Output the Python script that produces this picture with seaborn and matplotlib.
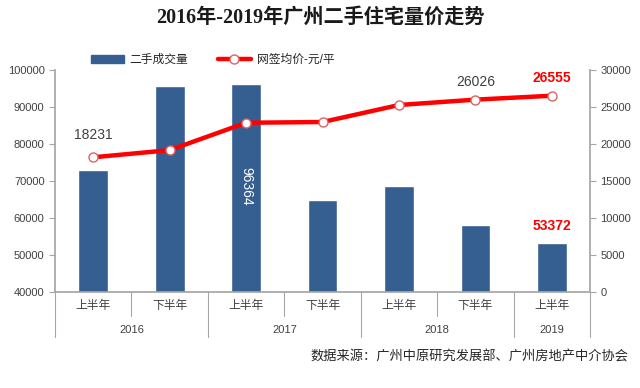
import matplotlib
matplotlib.use('Agg')
import matplotlib.pyplot as plt
import matplotlib.transforms as mtransforms
from matplotlib.lines import Line2D
from matplotlib.patches import Patch
import seaborn as sns
import pandas as pd

# data
halves = ['上半年', '下半年', '上半年', '下半年', '上半年', '下半年', '上半年']
years = ['2016', '2017', '2018', '2019']
year_span = [2, 2, 2, 1]
volume = [73000, 95700, 96364, 64900, 68700, 58100, 53372]
price = [18231, 19200, 22900, 23000, 25300, 26026, 26555]

bar_color = '#355E91'
line_color = '#FF0000'
gray = '#A6A6A6'

sns.set_theme(style='white')
plt.rcParams['font.family'] = ['Liberation Sans', 'Noto Sans CJK SC', 'DejaVu Sans']

df = pd.DataFrame({'pos': range(len(volume)), 'volume': volume, 'price': price})

fig = plt.figure(figsize=(6.4, 3.88), dpi=100)
ax = fig.add_axes([0.086, 0.247, 0.836, 0.572])

sns.barplot(data=df, x='pos', y='volume', color=bar_color, width=0.39,
            saturation=1, ax=ax, zorder=2)
ax.set_ylim(40000, 100000)
ax.set_yticks(range(40000, 100001, 10000))
ax.set_xlim(-0.5, len(volume) - 0.5)
ax.set_xticks([])
ax.set_xlabel('')
ax.set_ylabel('')

ax2 = ax.twinx()
sns.lineplot(data=df, x='pos', y='price', color=line_color, lw=3.2,
             marker='o', markersize=6.5, markerfacecolor='white',
             markeredgecolor='#E06060', markeredgewidth=1, ax=ax2, zorder=3)
ax2.set_ylim(0, 30000)
ax2.set_yticks(range(0, 30001, 5000))
ax2.set_ylabel('')
ax2.set_xlim(-0.5, len(volume) - 0.5)

for a in (ax, ax2):
    for s in a.spines.values():
        s.set_visible(False)
    a.tick_params(axis='y', labelsize=8, colors='#404040', length=4,
                  width=0.8, color=gray, direction='out')
ax.spines['left'].set_visible(True)
ax.spines['left'].set_color(gray)
ax.tick_params(axis='y', left=True)
ax2.spines['right'].set_visible(True)
ax2.spines['right'].set_color(gray)
ax2.tick_params(axis='y', right=True)
ax.spines['bottom'].set_visible(True)
ax.spines['bottom'].set_color(gray)

# data labels
ax2.annotate(f'{price[0]}', (0, price[0]), xytext=(0, 16), textcoords='offset points',
             ha='center', va='center', fontsize=10, color='#404040')
ax2.annotate(f'{price[5]}', (5, price[5]), xytext=(0, 13), textcoords='offset points',
             ha='center', va='center', fontsize=10, color='#404040')
ax2.annotate(f'{price[6]}', (6, price[6]), xytext=(0, 13), textcoords='offset points',
             ha='center', va='center', fontsize=10, color=line_color, fontweight='bold')
ax.annotate(f'{volume[6]}', (6, volume[6]), xytext=(0, 12), textcoords='offset points',
            ha='center', va='center', fontsize=10, color=line_color, fontweight='bold')
ax.text(2, 68500, f'{volume[2]}', rotation=-90, ha='center', va='center',
        fontsize=10, color='white', zorder=4)

# two-level category axis
trans = mtransforms.blended_transform_factory(ax.transData, ax.transAxes)
for i, h in enumerate(halves):
    ax.text(i, -0.063, h, transform=trans, ha='center', va='center',
            fontsize=8.5, color='#404040')
start = 0
bounds = [-0.5]
for y, n in zip(years, year_span):
    ax.text(start + (n - 1) / 2, -0.17, y, transform=trans, ha='center',
            va='center', fontsize=8, color='#404040')
    start += n
    bounds.append(start - 0.5)
for b in bounds:
    ax.add_line(Line2D([b, b], [0, -0.203], transform=trans, color=gray,
                       lw=0.8, clip_on=False))
for b in [0.5, 2.5, 4.5]:
    ax.add_line(Line2D([b, b], [0, -0.108], transform=trans, color=gray,
                       lw=0.8, clip_on=False))

# legend
handles = [Patch(color=bar_color, label='二手成交量'),
           Line2D([], [], color=line_color, lw=3.2, marker='o', markersize=6.5,
                  markerfacecolor='white', markeredgecolor='#E06060',
                  label='网签均价-元/平')]
fig.legend(handles=handles, loc='center left', bbox_to_anchor=(0.125, 0.845),
           ncol=2, frameon=False, fontsize=8.5, handlelength=2.8,
           columnspacing=2.5, handletextpad=0.5)

fig.text(0.5, 0.955, '2016年-2019年广州二手住宅量价走势', ha='center', va='center',
         fontsize=14.5, fontweight='bold', color='#1a1a1a',
         family=['Liberation Serif', 'Noto Sans CJK SC'])
fig.text(0.982, 0.08, '数据来源：广州中原研究发展部、广州房地产中介协会', ha='right',
         va='center', fontsize=9.5, color='#262626')

fig.savefig('out.png', dpi=100)
